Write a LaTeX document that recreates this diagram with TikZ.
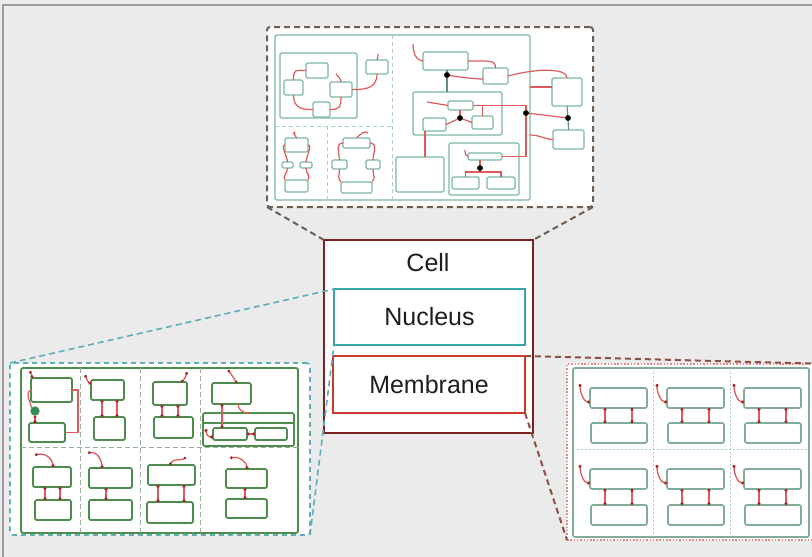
\documentclass[tikz,border=0pt]{standalone}
\usepackage{fontspec}
\setmainfont{Liberation Sans}
\usetikzlibrary{arrows.meta,calc}

\definecolor{bgc}{HTML}{EBEBEB}
\definecolor{framec}{HTML}{9A9A9A}
\definecolor{tealc}{HTML}{7DB8A2}
\definecolor{tealline}{HTML}{5E8F80}
\definecolor{tealdash}{HTML}{A9CFC3}
\definecolor{greenc}{HTML}{4E8C4E}
\definecolor{greendash}{HTML}{98AE98}
\definecolor{redc}{HTML}{DE5A5A}
\definecolor{redd}{HTML}{A82A2A}
\definecolor{brownd}{HTML}{6E5E52}
\definecolor{blued}{HTML}{5FAFB8}
\definecolor{rustd}{HTML}{8C5046}
\definecolor{pinkd}{HTML}{E58A8A}
\definecolor{rtealc}{HTML}{80AC98}
\definecolor{cellc}{HTML}{7A1F22}
\definecolor{nucc}{HTML}{3AA5A8}
\definecolor{memc}{HTML}{CC3B2E}
\definecolor{dotgreen}{HTML}{2E8B5A}
\definecolor{txtc}{HTML}{1E1E1E}

% box from top-left (#3,#4) to bottom-right (#5,#6), y measured downwards
\newcommand\bx[6]{\node[#1,anchor=north west,minimum width={(#5)-(#3)},minimum height={(#6)-(#4)}] (#2) at (#3,#4) {};}

\tikzset{
  basebox/.style={inner sep=0pt, outer sep=0pt, fill=white},
  tbox/.style={basebox, draw=tealc, line width=1.4pt, rounded corners=1.5pt},
  gbox/.style={basebox, draw=greenc, line width=1.8pt, rounded corners=2pt},
  rbox/.style={basebox, draw=rtealc, line width=1.7pt, rounded corners=2pt},
  rl/.style={draw=redc, line width=1.2pt},
  gl/.style={draw=tealline, line width=1.1pt},
  lk/.style={draw=redc, line width=1.3pt, {Circle[length=2.8pt,color=redd]}-{Circle[length=2.8pt,color=redd]}},
  bdot/.style={circle, fill=black, inner sep=0pt, minimum size=5.5pt},
  tdiv/.style={draw=tealdash, line width=0.8pt, dash pattern=on 4pt off 3pt},
  ldiv/.style={draw=greendash, line width=1pt, dash pattern=on 5pt off 3pt},
  rdiv/.style={draw=tealdash, line width=0.8pt, dash pattern=on 2pt off 2pt},
  conn/.style={line width=2pt, dash pattern=on 6pt off 4pt},
  lbl/.style={font=\fontsize{25}{29}\selectfont, text=txtc}
}

\begin{document}
\begin{tikzpicture}[x=1pt,y=-1pt]
\useasboundingbox (0,0) rectangle (812,557);
\clip (0,0) rectangle (812,557);
\fill[bgc] (0,0) rectangle (812,557);
\draw[framec, line width=1.5pt] (3,557) -- (3,5) -- (812,5);

% ---------------- top panel ----------------
\bx{basebox, draw=brownd, line width=2pt, dash pattern=on 6pt off 4pt, rounded corners=3pt}{tp}{267}{27}{593}{207}
\bx{tbox}{tmain}{275}{35}{530}{200}
\draw[tdiv] (392,35) -- (392,200);
\draw[tdiv] (275,126) -- (392,126);
\draw[tdiv] (327,126) -- (327,200);

% loop group
\bx{tbox}{tgrp}{280}{53}{357}{118}
\bx{tbox}{t1}{306}{63}{328}{78}
\bx{tbox}{t2}{284}{80}{303}{95}
\bx{tbox}{t3}{330}{82}{352}{97}
\bx{tbox}{t4}{313}{102}{330}{117}
\bx{tbox}{t5}{366}{60}{388}{74}
\coordinate (t3in) at (336,74);
\coordinate (t5in) at (378,54);
\draw[rl] (t2.north) .. controls +(0,-12) and +(-10,0) .. (t1.west);
\draw[rl] (t2.south) .. controls +(0,14) and +(-10,0) .. (t4.west);
\draw[rl] (t4.east) .. controls +(10,0) and +(0,10) .. (t3.south);
\draw[rl] (t3in) .. controls +(2,3) and +(0,-4) .. (t3.north);
\draw[rl] (t3.east) .. controls +(10,0) and +(0,16) .. (t5.south);
\draw[rl] (t5in) .. controls +(1,3) and +(0,-3) .. (t5.north);

% small forks
\bx{tbox}{u1}{285}{138}{308}{152}
\bx{tbox}{u2}{282}{162}{293}{168}
\bx{tbox}{u3}{300}{162}{312}{168}
\bx{tbox}{u4}{285}{180}{308}{192}
\coordinate (u1in) at (293,134);
\draw[rl] (u1.west) .. controls +(-5,0) and +(0,-5) .. (u2.north);
\draw[rl] (u1.east) .. controls +(5,0) and +(0,-5) .. (u3.north);
\draw[rl] (u2.south) .. controls +(0,6) and +(-3,-4) .. (u4.north west);
\draw[rl] (u3.south) .. controls +(0,6) and +(3,-4) .. (u4.north east);
\draw[rl] (u1in) .. controls +(4,-4) and +(-4,-4) .. (u1.north);

\bx{tbox}{v1}{343}{138}{370}{148}
\bx{tbox}{v2}{332}{160}{347}{169}
\bx{tbox}{v3}{366}{160}{380}{169}
\bx{tbox}{v4}{341}{182}{372}{193}
\coordinate (v1in) at (368,133);
\draw[rl] (v1.west) .. controls +(-8,0) and +(0,-6) .. (v2.north);
\draw[rl] (v1.east) .. controls +(8,0) and +(0,-6) .. (v3.north);
\draw[rl] (v2.south) .. controls +(0,7) and +(-4,-4) .. (v4.north west);
\draw[rl] (v3.south) .. controls +(0,7) and +(4,-4) .. (v4.north east);
\draw[rl] (v1in) .. controls +(-3,-3) and +(4,-4) .. (v1.north);

% right-hand network
\bx{tbox}{pA}{423}{52}{468}{70}
\bx{tbox}{pB}{483}{68}{508}{84}
\bx{tbox}{pC}{552}{78}{582}{106}
\bx{tbox}{pD}{553}{130}{584}{149}
\bx{tbox}{G1}{413}{92}{502}{135}
\bx{tbox}{pe}{448}{101}{473}{110}
\bx{tbox}{pf}{423}{118}{446}{131}
\bx{tbox}{pg}{472}{116}{493}{129}
\bx{tbox}{pH}{396}{157}{444}{192}
\bx{tbox}{G2}{449}{143}{519}{195}
\bx{tbox}{pi}{468}{153}{502}{160}
\bx{tbox}{pj}{452}{177}{479}{189}
\bx{tbox}{pk}{487}{177}{515}{189}

\node[bdot] (d1) at (447,75) {};
\node[bdot] (d2) at (460,118) {};
\node[bdot] (d3) at (526,113) {};
\node[bdot] (d4) at (568,118) {};
\node[bdot] (d5) at (480,168) {};

\coordinate (Ain) at (413,44);
\coordinate (Cin) at (530,87);
\coordinate (Din) at (530,135);
\coordinate (ein) at (427,102);
\coordinate (iin) at (465,150);
\coordinate (bar) at (480,172);
\coordinate (fx) at ([xshift=2pt]pf.south west);

\draw[rl] (Ain) .. controls +(0,10) and +(-6,0) .. (pA.west);
\draw[rl] (pA.east) .. controls +(22,0) and +(0,-8) .. (pB.north);
\draw[gl] (pA.south -| d1) -- (d1) -- (d1 |- G1.north);
\draw[rl] (d1) .. controls +(12,2) and +(-8,0) .. ([yshift=-3pt]pB.west);
\draw[rl] (pB.east) .. controls +(30,-8) and +(0,-10) .. (pC.north);
\draw[rl] (Cin) -- (pC.west |- Cin);
\draw[rl] (Din) .. controls +(10,0) and +(-8,0) .. (pD.west);
\draw[gl] (pC.south) -- (d4) -- (pD.north);
\draw[rl] (d3) -- (d4);
\draw[rl] (pe.east) -- (d3 |- pe.east) -- (d3);
\draw[rl] (pg.north) |- (pe.east);
\draw[rl] (d3) -- (d3 |- pi.east) -- (pi.east);
\draw[rl] (ein) -- (pe.west);
\draw[rl] (pe.south -| d2) -- (d2);
\draw[rl] (d2) -- (pf.east);
\draw[rl] (d2) -- (pg.west);
\draw[rl] (fx) -- (fx |- pH.north);
\draw[rl] (iin) .. controls +(0,4) and +(-2,0) .. (pi.west);
\draw[rl] (pi.south -| d5) -- (d5) -- (bar);
\draw[rl] (pj.north) |- (bar) -| (pk.north);
\foreach \d in {d1,d2,d3,d4,d5} \node[bdot] at (\d) {};

% ---------------- left panel ----------------
\bx{basebox, draw=blued, line width=1.6pt, dash pattern=on 5pt off 4pt, rounded corners=3pt}{lp}{10}{363}{310}{535}
\bx{gbox}{lmain}{21}{368}{298}{533}
\draw[ldiv] (80,368) -- (80,533);
\draw[ldiv] (140,368) -- (140,533);
\draw[ldiv] (200,368) -- (200,533);
\draw[ldiv] (21,447) -- (298,447);

% row 1
\bx{gbox}{a1}{31}{378}{72}{402}
\bx{gbox}{a2}{29}{423}{65}{442}
\node[circle, fill=dotgreen, draw=greenc, line width=0.8pt, inner sep=0pt, minimum size=8.5pt] (gd) at (35,411) {};
\coordinate (a1in) at (30,371);
\draw[lk] (a1in) .. controls +(1,3) and +(0,-3) .. ([xshift=1pt]a1.north west);
\draw[rl] (a1.west) .. controls +(-6,1) and +(-2,-6) .. (gd.north west);
\draw[lk] (gd.south) -- (gd.south |- a2.north);
\draw[rl] (a1.east) -- ++(6,0) |- (a2.east);

\bx{gbox}{b1}{91}{380}{124}{400}
\bx{gbox}{b2}{94}{417}{125}{440}
\coordinate (b1in) at (85,375);
\draw[lk] (b1in) .. controls +(2,5) and +(-3,-2) .. ([yshift=-4pt]b1.north west);
\draw[lk] ([xshift=11pt]b1.south west) -- ([xshift=8pt]b2.north west);
\draw[lk] ([xshift=26pt]b1.south west) -- ([xshift=23pt]b2.north west);

\bx{gbox}{c1}{153}{382}{187}{405}
\bx{gbox}{c2}{154}{417}{193}{438}
\coordinate (c1in) at (187,372);
\draw[lk] (c1in) .. controls +(-1,4) and +(3,-2) .. ([xshift=-6pt]c1.north east);
\draw[lk] ([xshift=9pt]c1.south west) -- ([xshift=8pt]c2.north west);
\draw[lk] ([xshift=25pt]c1.south west) -- ([xshift=24pt]c2.north west);

\bx{gbox}{ct}{203}{413}{294}{446}
\draw[greenc, line width=1.5pt] (203,423) -- (294,423);
\bx{gbox}{e1}{212}{383}{251}{404}
\bx{gbox}{e2}{213}{428}{247}{440}
\bx{gbox}{e3}{255}{428}{287}{440}
\coordinate (e1in) at (228,370);
\coordinate (e2in) at (206,429);
\draw[lk] (e1in) .. controls +(4,5) and +(-3,-4) .. ([xshift=25pt]e1.north west);
\draw[lk] ([xshift=10pt]e1.south west) -- ([xshift=9pt]e2.north west);
\draw[rl] ([xshift=26pt]e1.south west) .. controls +(0,6) and +(-6,0) .. ([xshift=46pt]ct.north west);
\draw[lk] (e3.west) -- (e2.east);
\draw[lk] (e2in) .. controls +(0,7) and +(-3,0) .. ([yshift=-3pt]e2.west);

% row 2
\bx{gbox}{f1}{33}{467}{71}{487}
\bx{gbox}{f2}{35}{500}{71}{520}
\coordinate (f1in) at (35,455);
\draw[lk] (f1in) .. controls +(12,-3) and +(0,-6) .. ([xshift=20pt]f1.north west);
\draw[lk] ([xshift=12pt]f1.south west) -- ([xshift=10pt]f2.north west);
\draw[lk] ([xshift=27pt]f1.south west) -- ([xshift=25pt]f2.north west);

\bx{gbox}{g1}{89}{468}{132}{488}
\bx{gbox}{g2}{89}{500}{132}{520}
\coordinate (g1in) at (88,453);
\draw[lk] (g1in) .. controls +(10,-2) and +(0,-6) .. ([xshift=13pt]g1.north west);
\draw[lk] ([xshift=17pt]g1.south west) -- ([xshift=17pt]g2.north west);

\bx{gbox}{h1}{148}{465}{195}{485}
\bx{gbox}{h2}{147}{502}{193}{523}
\coordinate (h1in) at (186,457);
\draw[lk] (h1in) .. controls +(-4,4) and +(3,-7) .. ([xshift=22pt]h1.north west);
\draw[lk] ([xshift=10pt]h1.south west) -- ([xshift=11pt]h2.north west);
\draw[lk] ([xshift=36pt]h1.south west) -- ([xshift=37pt]h2.north west);

\bx{gbox}{k1}{226}{469}{267}{488}
\bx{gbox}{k2}{226}{499}{267}{518}
\coordinate (k1in) at (230,458);
\draw[lk] (k1in) .. controls +(10,-2) and +(0,-6) .. ([xshift=21pt]k1.north west);
\draw[lk] ([xshift=19pt]k1.south west) -- ([xshift=19pt]k2.north west);

% ---------------- right panel ----------------
\bx{basebox, draw=pinkd, line width=1.3pt, dash pattern=on 1.5pt off 1.8pt}{rp}{567}{364}{830}{540}
\bx{rbox}{rmain}{573}{368}{809}{537}
\draw[rdiv] (653,368) -- (653,537);
\draw[rdiv] (730,368) -- (730,537);
\draw[rdiv] (573,449) -- (809,449);
\foreach \cx/\cn in {590/1,667/2,744/3}{
  \foreach \ty/\by/\rn in {388/423/1,469/505/2}{
    \bx{rbox}{rt\cn\rn}{\cx}{\ty}{\cx+57}{\ty+20}
    \bx{rbox}{rb\cn\rn}{\cx+1}{\by}{\cx+57}{\by+20}
    \coordinate (rin\cn\rn) at (\cx-10,\ty-4);
    \draw[lk] (rin\cn\rn) .. controls +(0,9) and +(-6,0) .. ([yshift=-4pt]rt\cn\rn.west);
    \draw[lk] ([xshift=15pt]rt\cn\rn.south west) -- ([xshift=14pt]rb\cn\rn.north west);
    \draw[lk] ([xshift=42pt]rt\cn\rn.south west) -- ([xshift=41pt]rb\cn\rn.north west);
  }
}

% ---------------- central cell ----------------
\bx{basebox, draw=cellc, line width=2.6pt}{cell}{324}{240}{533}{433}
\node[lbl] (celltxt) at (428,263) {Cell};
\node[basebox, draw=nucc, line width=2pt, minimum width=191pt, minimum height=56pt, lbl] (nuc) at (429.5,317) {Nucleus};
\node[basebox, draw=memc, line width=2pt, minimum width=192pt, minimum height=57pt, lbl] (mem) at (429,384.5) {Membrane};

% ---------------- zoom connectors ----------------
\draw[conn, brownd] (tp.south west) -- (cell.north west);
\draw[conn, brownd] (tp.south east) -- (cell.north east);
\draw[conn, blued, line width=1.6pt] (lp.north west) -- (nuc.north west);
\draw[conn, blued, line width=1.6pt] (lp.south east) -- (nuc.south west);
\draw[conn, rustd] (mem.north east) -- (rp.north east);
\draw[conn, rustd] (mem.south east) -- (rp.south west);
\end{tikzpicture}
\end{document}
